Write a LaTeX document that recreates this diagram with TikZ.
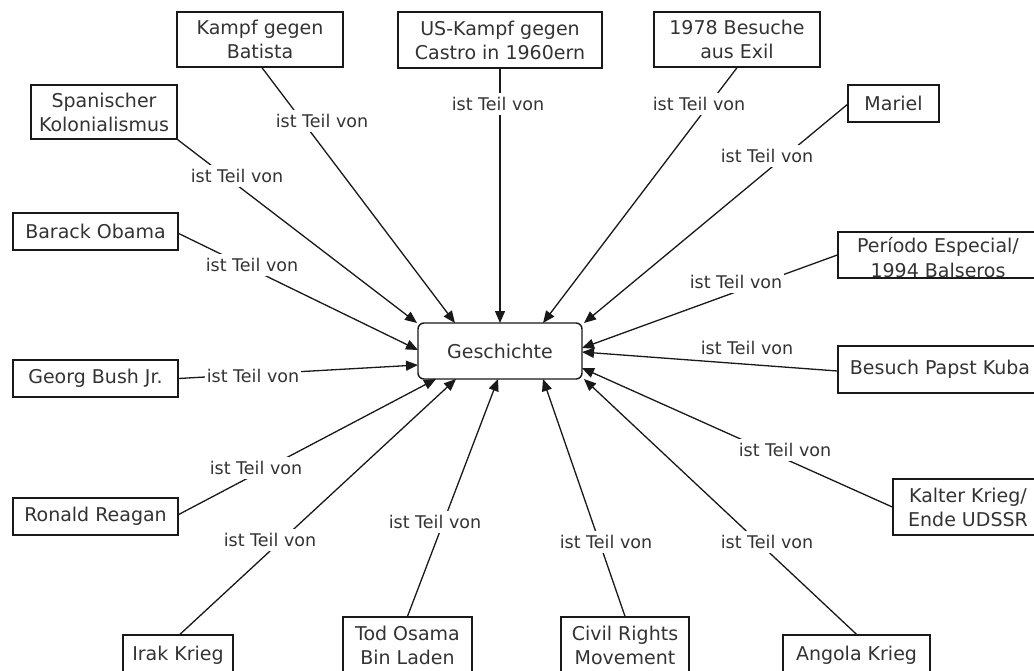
\documentclass[tikz,border=0pt]{standalone}
\usepackage{fontspec}
\setmainfont{DejaVu Sans}
\usetikzlibrary{arrows.meta}
\definecolor{ink}{RGB}{51,51,51}
\definecolor{edge}{RGB}{25,25,25}
\tikzset{
  concept/.style={draw=edge, line width=1.4pt, fill=white, align=center,
    inner sep=0pt, text=ink, font=\fontsize{19}{24}\selectfont},
  topic/.style={concept, rounded corners=6pt},
  lbl/.style={fill=white, inner xsep=2pt, inner ysep=4pt, text=ink,
    font=\fontsize{17.5}{21}\selectfont},
  link/.style={draw=edge, line width=1.3pt},
  arr/.style={link, -{Triangle[length=12pt,width=10pt]}}
}
\begin{document}
\begin{tikzpicture}[x=1pt,y=-1pt]
\fill[white] (0,0) rectangle (1034,671);
\clip (0,0) rectangle (1034,671);

% central concept
\node[topic, minimum width=164pt, minimum height=56pt] (G) at (500,351) {Geschichte};

% surrounding concepts
\node[concept, minimum width=166pt, minimum height=55pt] (bat) at (260,39.5) {Kampf gegen\\Batista};
\node[concept, minimum width=146pt, minimum height=54pt] (spa) at (104,112) {Spanischer\\Kolonialismus};
\node[concept, minimum width=165pt, minimum height=37pt] (oba) at (95.5,231.5) {Barack Obama};
\node[concept, minimum width=204pt, minimum height=56pt] (usk) at (500,40) {US-Kampf gegen\\Castro in 1960ern};
\node[concept, minimum width=166pt, minimum height=55pt] (b78) at (737,39.5) {1978 Besuche\\aus Exil};
\node[concept, minimum width=91pt, minimum height=37pt] (mar) at (893.5,103.5) {Mariel};
\node[concept, minimum width=200pt, minimum height=46pt] (per) at (938,255) {};
\node[text=ink, align=center, font=\fontsize{19}{25}\selectfont] (perT) at (938,258) {Período Especial/\\1994 Balseros};
\node[concept, minimum width=204pt, minimum height=47pt] (bes) at (940,369.5) {Besuch Papst Kuba};
\node[concept, minimum width=150pt, minimum height=56pt] (kal) at (968,507) {Kalter Krieg/\\Ende UDSSR};
\node[concept, minimum width=165pt, minimum height=37pt] (geo) at (95.5,378.5) {Georg Bush Jr.};
\node[concept, minimum width=165pt, minimum height=37pt] (rea) at (95.5,516.5) {Ronald Reagan};
\node[concept, minimum width=110pt, minimum height=40pt] (irk) at (178,655) {Irak Krieg};
\node[concept, minimum width=129pt, minimum height=57pt] (osa) at (407.5,645.5) {Tod Osama\\Bin Laden};
\node[concept, minimum width=128pt, minimum height=57pt] (civ) at (625,645.5) {Civil Rights\\Movement};
\node[concept, minimum width=147pt, minimum height=40pt] (ang) at (856.5,655) {Angola Krieg};

% arrow tips on the border of the central concept
\coordinate (tSpa) at (417,323);
\coordinate (tBat) at (455,323);
\coordinate (tUsk) at (500,323);
\coordinate (tB78) at (543,323);
\coordinate (tMar) at (584,323);
\coordinate (tOba) at (418,350);
\coordinate (tGeo) at (418,365);
\coordinate (tRea) at (436,379);
\coordinate (tIrk) at (456,379);
\coordinate (tOsa) at (498,379);
\coordinate (tCiv) at (543,379);
\coordinate (tAng) at (584,379);
\coordinate (tKal) at (582,368);
\coordinate (tBes) at (582,352);
\coordinate (tPer) at (582,348);

% connectors
\draw[arr] (spa.south east) -- (tSpa);
\draw[arr] ([xshift=2pt]bat.south) -- (tBat);
\draw[arr] (usk.south) -- (tUsk);
\draw[arr] (b78.south) -- (tB78);
\draw[arr] ([yshift=-1pt]mar.west) -- (tMar);
\draw[arr] ([yshift=-2pt]oba.east) -- (tOba);
\draw[arr] (geo.east) -- (tGeo);
\draw[arr] ([yshift=2pt]rea.east) -- (tRea);
\draw[arr] ([xshift=2pt]irk.north) -- (tIrk);
\draw[arr] (osa.north) -- (tOsa);
\draw[arr] (civ.north) -- (tCiv);
\draw[arr] (ang.north) -- (tAng);
\draw[arr] (kal.west) -- (tKal);
\draw[arr] ([yshift=-1.5pt]bes.west) -- (tBes);
\draw[arr] (per.west) -- (tPer);

% link labels
\node[lbl] (lSpa) at (237,176) {ist Teil von};
\node[lbl] (lBat) at (322,121) {ist Teil von};
\node[lbl] (lUsk) at (498,104) {ist Teil von};
\node[lbl] (lB78) at (699,104) {ist Teil von};
\node[lbl] (lMar) at (767,156) {ist Teil von};
\node[lbl] (lOba) at (252,265) {ist Teil von};
\node[lbl] (lGeo) at (253,376) {ist Teil von};
\node[lbl] (lRea) at (256,468) {ist Teil von};
\node[lbl] (lIrk) at (270,540) {ist Teil von};
\node[lbl] (lOsa) at (435,522) {ist Teil von};
\node[lbl] (lCiv) at (606,542) {ist Teil von};
\node[lbl] (lAng) at (767,542) {ist Teil von};
\node[lbl] (lKal) at (785,450) {ist Teil von};
\node[lbl, fill=none] (lBes) at (747,348) {ist Teil von};
\node[lbl] (lPer) at (736,282) {ist Teil von};
\end{tikzpicture}
\end{document}
